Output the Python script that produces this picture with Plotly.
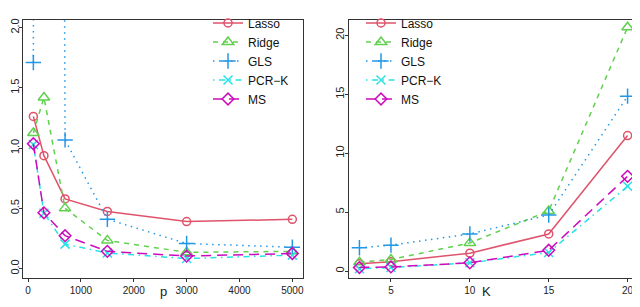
import plotly.graph_objects as go

# ---- data ----
p_vals = [100, 300, 700, 1500, 3000, 5000]
lasso_p = [1.263, 0.937, 0.578, 0.474, 0.390, 0.409]
ridge_p = [1.125, 1.420, 0.500, 0.234, 0.135, 0.143]
gls_p = [1.71, 50.0, 1.068, 0.41, 0.208, 0.177]
pcrk_p = [1.03, 0.46, 0.203, 0.130, 0.083, 0.112]
ms_p = [1.036, 0.463, 0.273, 0.143, 0.104, 0.125]

k_vals = [3, 5, 10, 15, 20]
lasso_k = [0.62, 0.80, 1.52, 3.15, 11.5]
ridge_k = [0.76, 0.98, 2.39, 5.10, 20.68]
gls_k = [1.98, 2.20, 3.15, 4.76, 14.84]
pcrk_k = [0.20, 0.30, 0.70, 1.58, 7.20]
ms_k = [0.30, 0.35, 0.70, 1.77, 8.04]

names = ["Lasso", "Ridge", "GLS", "PCR\u2212K", "MS"]
p_ticks = [0, 1000, 2000, 3000, 4000, 5000]
y1_ticks = [0.0, 0.5, 1.0, 1.5, 2.0]
y1_ticktext = ["0.0", "0.5", "1.0", "1.5", "2.0"]
k_ticks = [5, 10, 15, 20]
y2_ticks = [0, 5, 10, 15, 20]

# ---- styles ----
colors = ["#DF536B", "#61D04F", "#2297E6", "#28E2E5", "#CD0BBC"]
dashes = ["solid", "5px,5px", "1.5px,4.5px", "1.5px,4.5px,6px,4.5px", "10px,6px"]
symbols = ["circle-open", "triangle-up-open", "cross-thin-open", "x-thin-open", "diamond-open"]
sizes = [8, 10, 11, 9, 9]

FONT = "Liberation Sans, Arial, Helvetica, sans-serif"

fig = go.Figure()
left_series = [lasso_p, ridge_p, gls_p, pcrk_p, ms_p]
right_series = [lasso_k, ridge_k, gls_k, pcrk_k, ms_k]
for i in range(5):
    fig.add_trace(go.Scatter(
        x=p_vals, y=left_series[i], name=names[i], mode="lines+markers",
        line=dict(color=colors[i], width=1.5, dash=dashes[i]),
        marker=dict(symbol=symbols[i], size=sizes[i], color=colors[i],
                    line=dict(color=colors[i], width=1.5)),
        xaxis="x", yaxis="y", legend="legend"))
for i in range(5):
    fig.add_trace(go.Scatter(
        x=k_vals, y=right_series[i], name=names[i], mode="lines+markers",
        line=dict(color=colors[i], width=1.5, dash=dashes[i]),
        marker=dict(symbol=symbols[i], size=sizes[i], color=colors[i],
                    line=dict(color=colors[i], width=1.5)),
        xaxis="x2", yaxis="y2", legend="legend2", cliponaxis=False))


def ax(**kw):
    d = dict(showline=True, mirror=True, linecolor="#333", linewidth=1,
             ticks="outside", ticklen=3, tickcolor="#333", tickwidth=1, showgrid=False,
             zeroline=False, automargin=False)
    d.update(kw)
    return d

xfont = dict(family=FONT, size=10, color="#222")
yfont = dict(family=FONT, size=11, color="#222")

# page is offset by 8px (body margin); figure coords = screen - 8
W, H = 640, 307
fig.update_layout(
    width=W, height=H,
    margin=dict(l=0, r=0, t=0, b=0),
    paper_bgcolor="white", plot_bgcolor="white",
    font=dict(family=FONT, color="#222"),
    showlegend=True,
    xaxis=ax(domain=[15/W, 294.7/W], range=[-96, 5196], tickvals=p_ticks,
             tickfont=xfont, anchor="y"),
    yaxis=ax(domain=[1 - 268.7/H, 1], range=[-0.0797, 2.063], tickvals=y1_ticks,
             ticktext=y1_ticktext, tickangle=-90, tickfont=yfont, anchor="x",
             ticklabelstandoff=-4),
    xaxis2=ax(domain=[340.7/W, 630.3/W], range=[2.32, 20.68], tickvals=k_ticks,
              tickfont=xfont, anchor="y2"),
    yaxis2=ax(domain=[1 - 268.7/H, 1], range=[-0.603, 21.3], tickvals=y2_ticks,
              tickangle=-90, tickfont=yfont, anchor="x2", ticklabelstandoff=-4),
    legend=dict(x=200/W, y=1 + 12/H, xanchor="left", yanchor="top",
                bgcolor="rgba(0,0,0,0)", font=dict(family=FONT, size=12, color="#111"),
                tracegroupgap=0),
    legend2=dict(x=353/W, y=1 + 12/H, xanchor="left", yanchor="top",
                 bgcolor="rgba(0,0,0,0)", font=dict(family=FONT, size=12, color="#111"),
                 tracegroupgap=0),
    annotations=[
        dict(text="p", x=(158 - 8)/W, y=1 - 292/H, xref="paper", yref="paper",
             showarrow=False, font=dict(family=FONT, size=13, color="#222")),
        dict(text="K", x=(493 - 8)/W, y=1 - 292/H, xref="paper", yref="paper",
             showarrow=False, font=dict(family=FONT, size=13, color="#222")),
    ],
)

fig.write_html("out.html")
